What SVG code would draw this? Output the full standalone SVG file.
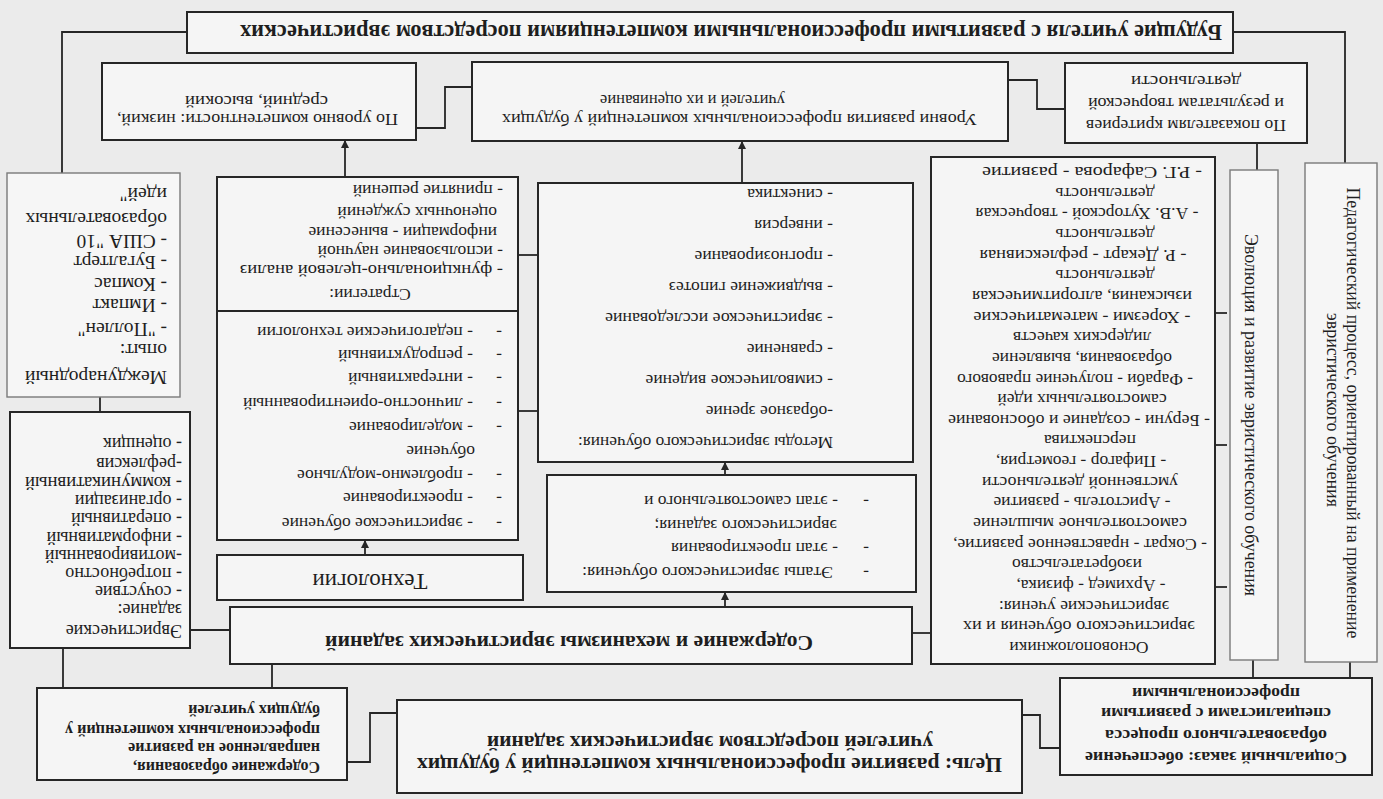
<svg xmlns="http://www.w3.org/2000/svg" width="1383" height="799" viewBox="0 0 1383 799">
<style>
.bg{fill:#ebebeb}
.box{fill:#f5f5f5;stroke:#262626;stroke-width:2}
.lbox{fill:#f6f6f6;stroke:#7a7a7a;stroke-width:1.4}
.c{fill:none;stroke:#262626;stroke-width:1.8}
.t{font-family:"Liberation Serif","Times New Roman",serif;font-size:17.5px;fill:#1e1e1e}
.b{font-weight:bold}
.m{text-anchor:middle}
</style>
<defs>
<marker id="ah" viewBox="0 0 10 10" refX="10" refY="5" markerWidth="8" markerHeight="8" orient="auto" markerUnits="userSpaceOnUse">
<path d="M0,0 L10,5 L0,10 z" fill="#262626"/>
</marker>
</defs>
<rect class="bg" x="0" y="0" width="1383" height="799"/>
<g transform="rotate(180 691.5 399.5)">
<g id="connectors">
<polyline class="c" points="967,671 938,671 938,712 911,712"/>
<polyline class="c" points="375,719 346,719 346,690 318,690"/>
<line class="c" x1="126" y1="656" x2="126" y2="629"/>
<polyline class="c" points="150,767 38,767 38,636"/>
<polyline class="c" points="1196,767 1321,767 1321,626"/>
<line class="c" x1="1283" y1="402" x2="1283" y2="387"/>
<line class="c" x1="1320" y1="151" x2="1320" y2="109"/>
<line class="c" x1="1193" y1="169" x2="1153" y2="169"/>
<line class="c" x1="1111" y1="135" x2="1111" y2="111"/>
<polyline class="c" points="986,86 1013,86 1013,37 1036,37"/>
<polyline class="c" points="323,51 343,51 343,84 361,84"/>
<line class="c" x1="130" y1="139" x2="130" y2="115"/>
<line class="c" x1="33" y1="137" x2="33" y2="113"/>
<line class="c" x1="168" y1="486" x2="156" y2="486"/>
<line class="c" x1="168" y1="354" x2="156" y2="354"/>
<line class="c" x1="168" y1="212" x2="156" y2="212"/>
<line class="c" x1="452" y1="166" x2="471" y2="166"/>
<line class="c" x1="845" y1="544" x2="865" y2="544"/>
<line class="c" x1="845" y1="388" x2="865" y2="388"/>
<line class="c" x1="641" y1="616" x2="641" y2="658" marker-end="url(#ah)"/>
<line class="c" x1="1038" y1="622" x2="1038" y2="659" marker-end="url(#ah)"/>
<line class="c" x1="1018" y1="244" x2="1018" y2="259" marker-end="url(#ah)"/>
<line class="c" x1="658" y1="192" x2="658" y2="207" marker-end="url(#ah)"/>
<line class="c" x1="658" y1="324" x2="658" y2="337" marker-end="url(#ah)"/>
</g>
<g id="n-title">
<rect class="box" x="150" y="746" width="1046" height="41"/>
<text class="t b" x="161" y="774" style="font-size:23px" textLength="982" lengthAdjust="spacingAndGlyphs">Будущие учителя с развитыми профессиональными компетенциями посредством эвристических</text>
</g>
<g id="n-level-comp">
<rect class="box" x="967" y="659" width="314" height="77"/>
<text class="t" x="985" y="685" textLength="281" lengthAdjust="spacingAndGlyphs">По уровню компетентности: низкий,</text>
<text class="t" x="1055" y="703" textLength="143" lengthAdjust="spacingAndGlyphs">средний, высокий</text>
</g>
<g id="n-levels">
<rect class="box" x="375" y="658" width="536" height="79"/>
<text class="t" x="406" y="685" textLength="475" lengthAdjust="spacingAndGlyphs">Уровни развития профессиональных компетенций у будущих</text>
<text class="t" x="598" y="704" textLength="185" lengthAdjust="spacingAndGlyphs">учителей и их оценивание</text>
</g>
<g id="n-criteria">
<rect class="box" x="76" y="656" width="242" height="80"/>
<text class="t m" x="197" y="679" textLength="200" lengthAdjust="spacingAndGlyphs">По показателям критериев</text>
<text class="t m" x="197" y="701" textLength="196" lengthAdjust="spacingAndGlyphs">и результатам творческой</text>
<text class="t m" x="197" y="723" textLength="110" lengthAdjust="spacingAndGlyphs">деятельности</text>
</g>
<g id="n-intl">
<rect class="lbox" x="1203" y="402" width="173" height="224"/>
<g class="t" style="font-size:19.5px">
<text x="1216" y="428" textLength="142" lengthAdjust="spacingAndGlyphs">Международный</text>
<text x="1216" y="455">опыт:</text>
<text x="1216" y="476">- "Поллен"</text>
<text x="1216" y="500">- Импакт</text>
<text x="1216" y="521">- Компас</text>
<text x="1216" y="543">- Бугалтерт</text>
<text x="1216" y="564">- США "10</text>
<text x="1216" y="586">образовательных</text>
<text x="1216" y="611">идей"</text>
</g>
</g>
<g id="n-task">
<rect class="box" x="1193" y="151" width="180" height="236"/>
<g class="t" style="font-size:18px">
<text x="1201" y="174">Эвристические</text>
<text x="1201" y="195">задание:</text>
<text x="1201" y="213">- сочуствие</text>
<text x="1201" y="231">- потребностно</text>
<text x="1201" y="249">-мотивированный</text>
<text x="1201" y="267">- информативный</text>
<text x="1201" y="286">- оперативный</text>
<text x="1201" y="304">- организации</text>
<text x="1201" y="322" textLength="157" lengthAdjust="spacingAndGlyphs">- коммуникативный</text>
<text x="1201" y="341">-рефлексив</text>
<text x="1201" y="361">- оценщик</text>
</g>
</g>
<g id="n-content-edu">
<rect class="box" x="1036" y="19" width="310" height="92"/>
<g class="t b" style="font-size:16px">
<text x="1063" y="37">Содержание образования,</text>
<text x="1063" y="56">направленное на развитие</text>
<text x="1063" y="74" textLength="255" lengthAdjust="spacingAndGlyphs">профессиональных компетенций у</text>
<text x="1063" y="94">будущих учителей</text>
</g>
</g>
<g id="n-tech">
<rect class="box" x="860" y="199" width="306" height="45"/>
<text class="t m" x="1013" y="225" style="font-size:23px">Технологии</text>
</g>
<g id="n-content-mech">
<rect class="box" x="471" y="135" width="682" height="57"/>
<text class="t b" x="570" y="163" style="font-size:22px" textLength="488" lengthAdjust="spacingAndGlyphs">Содержание и механизмы эвристических заданий</text>
</g>
<g id="n-goal">
<rect class="box" x="361" y="6" width="625" height="93"/>
<text class="t b" x="381" y="41" style="font-size:21px" textLength="585" lengthAdjust="spacingAndGlyphs">Цель: развитие профессиональных компетенций у будущих</text>
<text class="t b m" x="673" y="63" style="font-size:21px" textLength="446" lengthAdjust="spacingAndGlyphs">учителей посредством эвристических заданий</text>
</g>
<g id="n-social">
<rect class="box" x="11" y="24" width="312" height="97"/>
<g class="t b m" style="font-size:17.5px">
<text x="167" y="47" textLength="262" lengthAdjust="spacingAndGlyphs">Социальный заказ: обеспечение</text>
<text x="167" y="69" textLength="222" lengthAdjust="spacingAndGlyphs">образовательного процесса</text>
<text x="167" y="91" textLength="230" lengthAdjust="spacingAndGlyphs">специалистами с развитыми</text>
<text x="167" y="111" textLength="168" lengthAdjust="spacingAndGlyphs">профессиональными</text>
</g>
</g>
<g id="n-evolution">
<rect class="lbox" x="105" y="139" width="48" height="490"/>
<text class="t m" transform="translate(138 384) rotate(-90)" x="0" y="0" style="font-size:18px" textLength="362" lengthAdjust="spacingAndGlyphs">Эволюция и развитие эвристического обучения</text>
</g>
<g id="n-pedagogical">
<rect class="lbox" x="6" y="137" width="72" height="499"/>
<text class="t m" transform="translate(36 386) rotate(-90)" x="0" y="0" style="font-size:18px" textLength="451" lengthAdjust="spacingAndGlyphs">Педагогический процесс, ориентированный на применение</text>
<text class="t m" transform="translate(56 389) rotate(-90)" x="0" y="0" style="font-size:18px" textLength="194" lengthAdjust="spacingAndGlyphs">эвристического обучения</text>
</g>
<g id="n-founders">
<rect class="box" x="168" y="135" width="284" height="507"/>
<g class="t m">
<text x="304" y="157">Основоположники</text>
<text x="304" y="178" textLength="232" lengthAdjust="spacingAndGlyphs">эвристического обучения и их</text>
<text x="299" y="198">эвристические учения:</text>
<text x="292" y="219">- Архимед - физика,</text>
<text x="306" y="240">изобретательство</text>
<text x="303" y="260" textLength="254" lengthAdjust="spacingAndGlyphs">- Сократ - нравственное развитие,</text>
<text x="303" y="281" textLength="214" lengthAdjust="spacingAndGlyphs">самостоятельное мышление</text>
<text x="301" y="302">- Аристотель - развитие</text>
<text x="303" y="322" textLength="196" lengthAdjust="spacingAndGlyphs">умственной деятельности</text>
<text x="302" y="343">- Пифагор - геометрия,</text>
<text x="293" y="364">перспектива</text>
<text x="304" y="384" textLength="262" lengthAdjust="spacingAndGlyphs">- Беруни - создание и обоснование</text>
<text x="301" y="405">самостоятельных идей</text>
<text x="308" y="425" textLength="236" lengthAdjust="spacingAndGlyphs">- Фараби - получение правового</text>
<text x="301" y="446">образования, выявление</text>
<text x="301" y="467">лидерских качеств</text>
<text x="301" y="487" textLength="217" lengthAdjust="spacingAndGlyphs">- Хорезми - математические</text>
<text x="301" y="508" textLength="220" lengthAdjust="spacingAndGlyphs">изыскания, алгоритмическая</text>
<text x="278" y="529">деятельность</text>
<text x="300" y="549" textLength="207" lengthAdjust="spacingAndGlyphs">- Р. Декарт - рефлексивная</text>
<text x="278" y="570">деятельность</text>
<text x="296" y="591" textLength="223" lengthAdjust="spacingAndGlyphs">- А.В. Хуторской - творческая</text>
<text x="278" y="611">деятельность</text>
<text x="291" y="632" textLength="220" lengthAdjust="spacingAndGlyphs">- Р.Г. Сафарова - развитие</text>
</g>
</g>
<g id="n-methods">
<rect class="box" x="470" y="337" width="375" height="279"/>
<g class="t">
<text x="550" y="362" textLength="255" lengthAdjust="spacingAndGlyphs">Методы эвристического обучения:</text>
<text x="550" y="393">-образное зрение</text>
<text x="550" y="424">- символическое видение</text>
<text x="550" y="455">- сравнение</text>
<text x="550" y="486" textLength="228" lengthAdjust="spacingAndGlyphs">- эвристическое исследование</text>
<text x="550" y="517">- выдвижение гипотез</text>
<text x="550" y="548">- прогнозирование</text>
<text x="550" y="579">- инверсия</text>
<text x="550" y="610">- синектика</text>
</g>
</g>
<g id="n-strategies">
<rect class="box" x="865" y="259" width="301" height="363"/>
<line class="c" x1="865" y1="488" x2="1166" y2="488" style="stroke-width:2"/>
<g class="t">
<text x="881" y="281">-</text><text x="910" y="281">- эвристическое обучение</text>
<text x="881" y="306">-</text><text x="910" y="306">- проектирование</text>
<text x="881" y="329">-</text><text x="910" y="329">- проблемно-модульное</text>
<text x="908" y="353">обучение</text>
<text x="881" y="377">-</text><text x="910" y="377">- моделирование</text>
<text x="881" y="401">-</text><text x="910" y="401" textLength="230" lengthAdjust="spacingAndGlyphs">- личностно-ориентированный</text>
<text x="881" y="426">-</text><text x="910" y="426">- интерактивный</text>
<text x="881" y="449">-</text><text x="910" y="449">- репродуктивный</text>
<text x="881" y="472">-</text><text x="910" y="472">- педагогические технологии</text>
<text class="m" x="1013" y="510">Стратегии:</text>
<text x="880" y="534" textLength="263" lengthAdjust="spacingAndGlyphs">- функционально-целевой анализ</text>
<text x="880" y="553">- использование научной</text>
<text x="886" y="572">информации - вынесение</text>
<text x="886" y="592">оценочных суждений</text>
<text x="880" y="614">- принятие решений</text>
</g>
</g>
<g id="n-stages">
<rect class="box" x="467" y="207" width="369" height="117"/>
<g class="t">
<text x="514" y="232">-</text><text x="550" y="232" textLength="251" lengthAdjust="spacingAndGlyphs">Этапы эвристического обучения:</text>
<text x="514" y="256">-</text><text x="545" y="256">- этап проектирования</text>
<text x="546" y="279">эвристического задания;</text>
<text x="514" y="303">-</text><text x="545" y="303">- этап самостоятельного и</text>
</g>
</g>
</g>
</svg>
